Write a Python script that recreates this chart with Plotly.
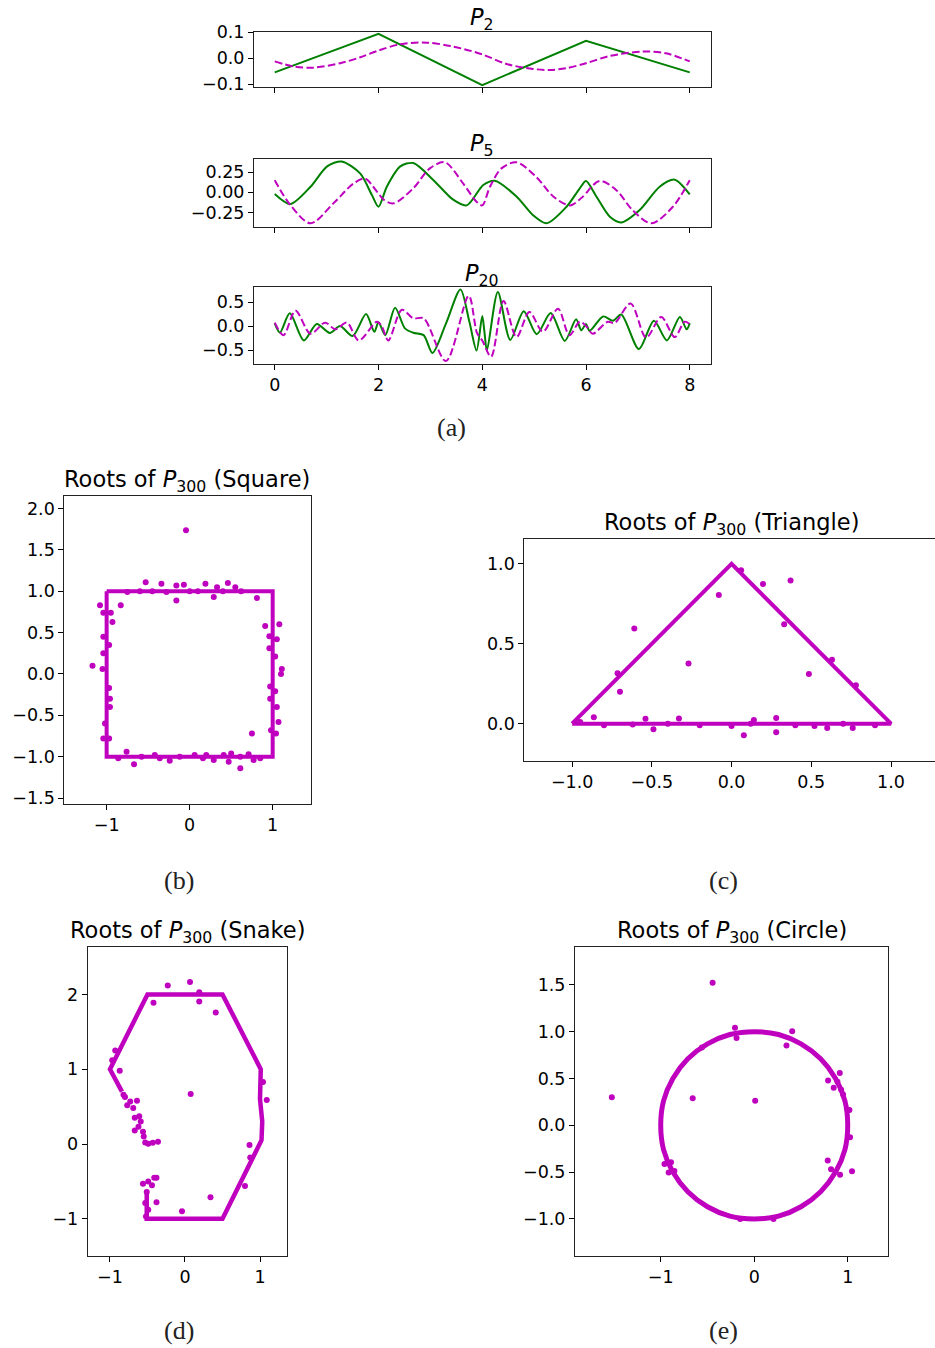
import plotly.graph_objects as go

W, H = 935, 1348
MAG = '#bf00bf'
GRN = '#008000'

x_grid_ticks = [0, 2, 4, 6, 8]

p2_green_x = [0, 2, 4, 6, 8]
p2_green_y = [-0.054, 0.094, -0.103, 0.067, -0.054]
p2_mag_x = [0, 0.37, 0.75, 1.26, 1.65, 2.0, 2.42, 2.93, 3.44, 4.0, 4.47, 4.98, 5.3, 5.62, 6.0, 6.46, 7.1, 7.54, 8.0]
p2_mag_y = [-0.012, -0.032, -0.036, -0.019, 0.004, 0.03, 0.054, 0.06, 0.045, 0.015, -0.022, -0.041, -0.045, -0.038, -0.019, 0.009, 0.026, 0.019, -0.012]

p5_green_x = [0, 0.30, 0.69, 1.01, 1.29, 1.65, 1.87, 2.0, 2.16, 2.42, 2.67, 3.06, 3.44, 3.70, 4.02, 4.24, 4.66, 4.98, 5.24, 5.62, 5.88, 6.0, 6.2, 6.46, 6.68, 7.03, 7.42, 7.71, 8.0]
p5_green_y = [-0.02, -0.143, 0.07, 0.32, 0.38, 0.23, -0.03, -0.176, 0.07, 0.32, 0.36, 0.15, -0.09, -0.16, 0.09, 0.143, -0.05, -0.28, -0.38, -0.18, 0.05, 0.14, -0.05, -0.3, -0.37, -0.22, 0.07, 0.156, -0.025]
p5_mag_x = [0, 0.3, 0.69, 1.13, 1.52, 1.74, 1.97, 2.1, 2.29, 2.67, 2.99, 3.28, 3.63, 3.89, 4.0, 4.15, 4.37, 4.66, 5.04, 5.37, 5.69, 5.91, 6.26, 6.58, 6.9, 7.26, 7.67, 8.0]
p5_mag_y = [0.15, -0.156, -0.38, -0.135, 0.11, 0.17, 0.01, -0.09, -0.135, 0.05, 0.295, 0.37, 0.11, -0.115, -0.16, 0.07, 0.295, 0.37, 0.19, -0.05, -0.16, -0.07, 0.14, 0.03, -0.22, -0.38, -0.18, 0.15]

p20_green_x = [0, 0.1, 0.29, 0.56, 0.81, 1.06, 1.26, 1.5, 1.76, 1.92, 2.0, 2.13, 2.32, 2.51, 2.67, 2.87, 3.04, 3.3, 3.58, 3.75, 3.89, 4.0, 4.04, 4.09, 4.3, 4.54, 4.80, 5.05, 5.32, 5.59, 5.81, 5.91, 6.0, 6.07, 6.33, 6.52, 6.68, 7.02, 7.31, 7.56, 7.81, 7.94, 8.0]
p20_green_y = [0.057, -0.136, 0.264, -0.3, 0.043, -0.143, 0.0, -0.21, 0.25, -0.12, 0.08, -0.19, 0.38, -0.05, -0.14, -0.19, -0.56, 0.05, 0.76, 0.1, -0.51, 0.21, -0.1, -0.51, 0.71, -0.29, 0.31, -0.17, 0.27, -0.31, 0.14, -0.09, 0.04, -0.1, 0.2, 0.11, 0.24, -0.48, 0.11, -0.3, 0.19, -0.07, 0.06]
p20_mag_x = [0, 0.17, 0.4, 0.69, 0.97, 1.17, 1.39, 1.62, 1.97, 2.06, 2.19, 2.45, 2.67, 2.87, 3.3, 3.74, 3.9, 4.0, 4.17, 4.41, 4.66, 4.91, 5.17, 5.46, 5.68, 5.88, 6.0, 6.13, 6.42, 6.55, 6.86, 7.16, 7.45, 7.71, 7.9, 8.0]
p20_mag_y = [0.07, -0.19, 0.32, -0.16, 0.07, -0.07, 0.07, -0.3, 0.09, 0.0, -0.3, 0.34, 0.16, 0.16, -0.73, 0.63, -0.15, -0.3, -0.64, 0.52, -0.23, 0.29, -0.12, 0.36, -0.19, 0.09, 0.0, -0.16, 0.09, 0.06, 0.47, -0.24, 0.19, -0.23, 0.09, 0.04]

# ---------------- (b) Square ----------------
sq_band_x = [-1.0, 1.0, 1.0, -1.0, -1.0]
sq_band_y = [1.0, 1.0, -1.0, -1.0, 1.0]
sq_x = [-0.044, -0.53, -0.34, -0.16, -0.07, 0.19, 0.33, 0.46, 0.55, -0.16, 0.29, 0.81, -1.08, -0.83, -0.93,
        -1.04, -0.95, -1.04, -0.97, -1.04, -1.05, -1.17, -0.97, -0.96, -0.96, -1.02, -1.04, -0.97,
        0.91, 1.08, 0.96, 1.05, 0.96, 1.03, 1.11, 1.10, 0.97, 1.03, 0.97, 1.05, 1.07, 0.98, 1.04, 0.75,
        -0.76, -0.67, -0.42, -0.36, -0.24, -0.12, 0.06, 0.16, 0.29, 0.41, 0.47, 0.50, 0.61, 0.61, 0.71, 0.77, 0.85, -0.86, -0.58, 0.2,
        -0.75, -0.6, -0.45, -0.28, 0.0, 0.1, 0.4, 0.62]
sq_y = [1.737, 1.11, 1.09, 1.07, 1.08, 1.09, 1.05, 1.10, 1.05, 0.89, 0.93, 0.92, 0.83, 0.83, 0.63,
        0.74, 0.74, 0.45, 0.35, 0.25, 0.06, 0.10, -0.17, -0.30, -0.40, -0.60, -0.78, -0.78,
        0.58, 0.60, 0.455, 0.42, 0.31, 0.21, 0.06, 0.0, -0.15, -0.21, -0.30, -0.40, -0.58, -0.68, -0.72, -0.72,
        -0.94, -1.09, -0.98, -1.02, -1.05, -1.0, -0.98, -1.02, -1.04, -0.98, -1.06, -0.96, -1.0, -1.14, -0.97, -1.04, -1.02, -1.02, -1.0, -0.98,
        0.99, 1.0, 1.0, 0.99, 1.0, 1.0, 1.0, 1.0]

# ---------------- (c) Triangle ----------------
tr_band_x = [-1.0, 0.0, 1.0, -1.0]
tr_band_y = [0.0, 1.0, 0.0, 0.0]
tr_x = [0.197, 0.37, -0.08, -0.61, -0.27, 0.33, 0.485, -0.70, -0.715, -0.864, -0.54, -0.49, -0.33, 0.077, 0.28, 0.28, 0.14, 0.6, 0.76, 0.63, 0.78, 0.06,
        -0.95, -0.8, -0.62, -0.4, -0.2, 0.0, 0.12, 0.4, 0.52, 0.7, 0.9]
tr_y = [0.875, 0.896, 0.806, 0.595, 0.376, 0.622, 0.311, 0.2, 0.315, 0.04, 0.03, -0.035, 0.033, -0.073, -0.054, 0.035, 0.023, -0.027, -0.027, 0.40, 0.24, 0.96,
        0.01, -0.01, -0.005, 0.0, -0.01, -0.015, 0.0, -0.01, -0.015, 0.0, -0.01]

# ---------------- (d) Snake ----------------
sn_band_x = [-0.51, -0.51, 0.5, 1.02, 1.03, 1.0, 1.01, 0.5, -0.5, -1.0, -0.84]
sn_band_y = [-0.62, -1.0, -1.0, 0.05, 0.3, 0.6, 1.0, 2.0, 2.0, 1.0, 0.70]
sn_x = [0.067, -0.23, 0.19, 0.19, -0.42, 0.41, -0.93, -0.87, 0.076, 0.86, 0.87, 0.80, 0.34, -0.04, -0.38, -0.38, 1.09, 1.04, -0.97,
        -0.80, -0.73, -0.69, -0.67, -0.59, -0.62, -0.67, -0.56, -0.55, -0.53, -0.49, -0.43, -0.36, -0.64, -0.61, -0.77, -0.82,
        -0.56, -0.49, -0.44, -0.41, -0.51, -0.53, -0.49, -0.52]
sn_y = [2.165, 2.12, 2.03, 1.906, 1.89, 1.76, 1.25, 0.98, 0.67, -0.013, -0.18, -0.56, -0.71, -0.90, -0.45, -0.78, 0.59, 0.83, 1.12,
        0.63, 0.57, 0.48, 0.35, 0.30, 0.23, 0.18, 0.165, 0.10, 0.02, 0.005, 0.018, 0.03, 0.58, 0.37, 0.52, 0.66,
        -0.53, -0.50, -0.55, -0.45, -0.64, -0.79, -0.88, -0.97]

# ---------------- (e) Circle ----------------
ci_band_x = [1.0, 0.97, 0.87, 0.71, 0.5, 0.26, 0.0, -0.26, -0.5, -0.71, -0.87, -0.97, -1.0, -0.97, -0.87, -0.71, -0.5, -0.26, 0.0, 0.26, 0.5, 0.71, 0.87, 0.97, 1.0]
ci_band_y = [0.0, 0.26, 0.5, 0.71, 0.87, 0.97, 1.0, 0.97, 0.87, 0.71, 0.5, 0.26, 0.0, -0.26, -0.5, -0.71, -0.87, -0.97, -1.0, -0.97, -0.87, -0.71, -0.5, -0.26, 0.0]
ci_x = [-0.445, -1.523, -0.658, 0.01, 0.406, 0.345, -0.206, -0.189, 0.915, 0.79, 0.89, 1.018, 1.025, 0.786, 0.822, 0.918, 1.046,
        -0.96, -0.89, -0.854, -0.915, -0.56, 0.85, 0.206, -0.15, 0.93, 0.95]
ci_y = [1.523, 0.30, 0.288, 0.263, 1.004, 0.854, 1.043, 0.932, 0.559, 0.48, 0.466, 0.164, -0.128, -0.377, -0.47, -0.527, -0.491,
        -0.413, -0.395, -0.488, -0.505, 0.83, 0.40, -1.0, -1.0, 0.38, 0.33]


def X(px):
    return px / W


def Y(py):
    return 1 - py / H


TICKFONT = dict(family='DejaVu Sans', size=17.5, color='black')

# panel boxes in pixels: (left, right, top, bottom)
panels = [
    dict(box=(254, 710.5, 32, 87.3), xr=[-0.4, 8.4], yr=[-0.1115, 0.101], xt=x_grid_ticks, yt=[-0.1, 0.0, 0.1], xf='d', yf='.1f', xlab=False),
    dict(box=(254, 710.5, 158.7, 226.7), xr=[-0.4, 8.4], yr=[-0.422, 0.414], xt=x_grid_ticks, yt=[-0.25, 0.0, 0.25], xf='d', yf='.2f', xlab=False),
    dict(box=(254, 710.5, 287, 363.7), xr=[-0.4, 8.4], yr=[-0.785, 0.8125], xt=x_grid_ticks, yt=[-0.5, 0.0, 0.5], xf='d', yf='.1f', xlab=True),
    dict(box=(64.3, 310.7, 496, 804), xr=[-1.51, 1.458], yr=[-1.572, 2.152], xt=[-1, 0, 1], yt=[-1.5, -1.0, -0.5, 0.0, 0.5, 1.0, 1.5, 2.0], xf='d', yf='.1f', xlab=True),
    dict(box=(524.3, 935, 538.7, 760.7), xr=[-1.30, 1.276], yr=[-0.232, 1.158], xt=[-1.0, -0.5, 0.0, 0.5, 1.0], yt=[0.0, 0.5, 1.0], xf='.1f', yf='.1f', xlab=True, noright=True),
    dict(box=(87.7, 287.3, 947, 1255.7), xr=[-1.297, 1.364], yr=[-1.493, 2.634], xt=[-1, 0, 1], yt=[-1, 0, 1, 2], xf='d', yf='d', xlab=True),
    dict(box=(575, 888.3, 947, 1255.7), xr=[-1.917, 1.434], yr=[-1.393, 1.905], xt=[-1, 0, 1], yt=[-1.0, -0.5, 0.0, 0.5, 1.0, 1.5], xf='d', yf='.1f', xlab=True),
]

fig = go.Figure()
layout = dict(width=W, height=H, autosize=False,
              margin=dict(l=0, r=0, t=0, b=0, pad=0, autoexpand=False),
              paper_bgcolor='white', plot_bgcolor='white', showlegend=False)

for i, p in enumerate(panels, start=1):
    l, r, t, b = p['box']
    sfx = '' if i == 1 else str(i)
    layout['xaxis' + sfx] = dict(domain=[X(l), X(r)], range=p['xr'], anchor='y' + sfx,
                                 tickvals=p['xt'], tickformat=p['xf'], showticklabels=p['xlab'],
                                 ticks='outside', ticklen=5, tickwidth=1, tickcolor='black',
                                 showline=True, linecolor='#222', linewidth=1, mirror=True,
                                 showgrid=False, zeroline=False, tickfont=TICKFONT, fixedrange=True)
    layout['yaxis' + sfx] = dict(domain=[Y(b), Y(t)], range=p['yr'], anchor='x' + sfx,
                                 tickvals=p['yt'], tickformat=p['yf'],
                                 ticks='outside', ticklen=5, tickwidth=1, tickcolor='black',
                                 showline=True, linecolor='#222', linewidth=1,
                                 mirror=False if p.get('noright') else True,
                                 showgrid=False, zeroline=False, tickfont=TICKFONT, fixedrange=True)


def ax(i):
    return ('x' if i == 1 else 'x%d' % i), ('y' if i == 1 else 'y%d' % i)


# (a) curves
curves = [
    (1, p2_mag_x, p2_mag_y, p2_green_x, p2_green_y, 'linear'),
    (2, p5_mag_x, p5_mag_y, p5_green_x, p5_green_y, 'spline'),
    (3, p20_mag_x, p20_mag_y, p20_green_x, p20_green_y, 'spline'),
]
for i, mx, my, gx, gy, gshape in curves:
    xa, ya = ax(i)
    fig.add_trace(go.Scatter(x=gx, y=gy, mode='lines', xaxis=xa, yaxis=ya,
                             line=dict(color=GRN, width=2, shape=gshape, smoothing=0.8)))
    fig.add_trace(go.Scatter(x=mx, y=my, mode='lines', xaxis=xa, yaxis=ya,
                             line=dict(color=MAG, width=2, dash='7.5px,3.3px', shape='spline', smoothing=0.9)))

# root scatter panels
roots = [
    (4, sq_band_x, sq_band_y, sq_x, sq_y, 'linear', 4),
    (5, tr_band_x, tr_band_y, tr_x, tr_y, 'linear', 4),
    (6, sn_band_x, sn_band_y, sn_x, sn_y, 'linear', 4.5),
    (7, ci_band_x, ci_band_y, ci_x, ci_y, 'spline', 5),
]
for i, bx, by, px_, py_, shape, wid in roots:
    xa, ya = ax(i)
    fig.add_trace(go.Scatter(x=bx, y=by, mode='lines', xaxis=xa, yaxis=ya,
                             line=dict(color=MAG, width=wid, shape=shape)))
    fig.add_trace(go.Scatter(x=px_, y=py_, mode='markers', xaxis=xa, yaxis=ya,
                             marker=dict(color=MAG, size=6, line=dict(width=0))))

# titles
TF = dict(family='DejaVu Sans', size=22.5, color='black')
titles = [
    ('<i>P</i><sub>2</sub>', 482, 19),
    ('<i>P</i><sub>5</sub>', 482, 145),
    ('<i>P</i><sub>20</sub>', 482, 275),
    ('Roots of <i>P</i><sub>300</sub> (Square)', 187, 481),
    ('Roots of <i>P</i><sub>300</sub> (Triangle)', 731, 524),
    ('Roots of <i>P</i><sub>300</sub> (Snake)', 187, 932),
    ('Roots of <i>P</i><sub>300</sub> (Circle)', 732, 932),
]
ann = []
for txt, cx, cy in titles:
    ann.append(dict(text=txt, x=X(cx), y=Y(cy), xref='paper', yref='paper', xanchor='center', yanchor='middle',
                    showarrow=False, font=TF))

LF = dict(family='Liberation Serif', size=26, color='#222')
for txt, cx, cy in [('(a)', 451, 428), ('(b)', 179, 880), ('(c)', 723, 880), ('(d)', 179, 1330), ('(e)', 723, 1330)]:
    ann.append(dict(text=txt, x=X(cx), y=Y(cy), xref='paper', yref='paper', xanchor='center', yanchor='middle',
                    showarrow=False, font=LF))
layout['annotations'] = ann

fig.update_layout(**layout)
fig.write_html('out.html')
